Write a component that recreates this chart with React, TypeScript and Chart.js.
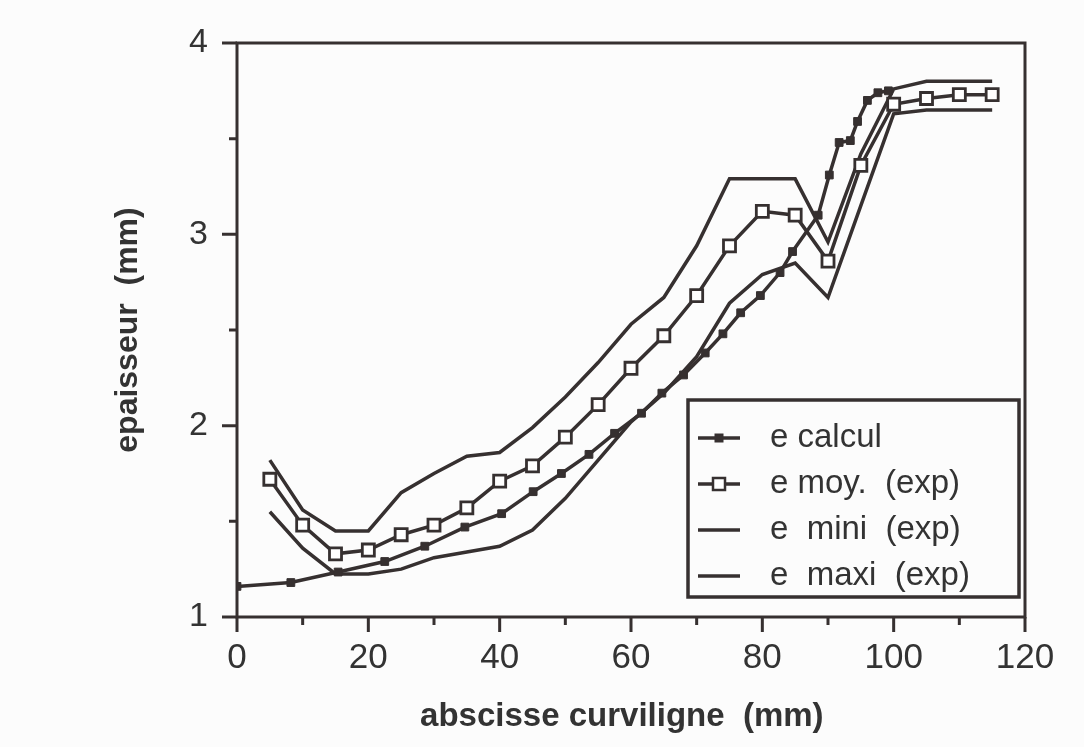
import React, { useEffect, useRef } from 'react';
import { Chart, registerables } from 'chart.js';

Chart.register(...registerables);

const INK = '#363030';
const FONT = "'Liberation Sans', Arial, Helvetica, sans-serif";

// axis ticks
const xMajorTicks = [0, 20, 40, 60, 80, 100, 120];
const xMinorTicks = [10, 30, 50, 70, 90, 110];
const yMajorTicks = [1, 2, 3, 4];
const yMinorTicks = [1.5, 2.5, 3.5];

// e calcul
const calculX = [0, 8.2, 15.4, 22.5, 28.6, 34.7, 40.3, 45.1, 49.4, 53.6, 57.5, 61.6, 64.7, 68.0, 71.3, 74.0, 76.7, 79.7, 82.7, 84.6, 88.5, 90.2, 91.7, 93.4, 94.5, 96.0, 97.6, 99.2];
const calculY = [1.16, 1.18, 1.235, 1.29, 1.37, 1.47, 1.54, 1.655, 1.75, 1.85, 1.96, 2.065, 2.17, 2.265, 2.38, 2.48, 2.59, 2.68, 2.8, 2.91, 3.1, 3.31, 3.48, 3.49, 3.59, 3.7, 3.74, 3.75];

// e moy. (exp)
const moyX = [5, 10, 15, 20, 25, 30, 35, 40, 45, 50, 55, 60, 65, 70, 75, 80, 85, 90, 95, 100, 105, 110, 115];
const moyY = [1.72, 1.48, 1.33, 1.35, 1.43, 1.48, 1.57, 1.71, 1.79, 1.94, 2.11, 2.3, 2.47, 2.68, 2.94, 3.12, 3.1, 2.86, 3.36, 3.68, 3.71, 3.73, 3.73];

// e mini (exp)
const miniX = [5, 10, 15, 20, 25, 30, 35, 40, 45, 50, 55, 60, 65, 70, 75, 80, 85, 90, 95, 100, 105, 115];
const miniY = [1.55, 1.36, 1.225, 1.225, 1.25, 1.31, 1.34, 1.37, 1.455, 1.62, 1.82, 2.02, 2.17, 2.36, 2.64, 2.79, 2.85, 2.67, 3.15, 3.63, 3.65, 3.65];

// e maxi (exp)
const maxiX = [5, 10, 15, 20, 25, 30, 35, 40, 45, 50, 55, 60, 65, 70, 75, 85, 90, 95, 100, 105, 115];
const maxiY = [1.82, 1.56, 1.45, 1.45, 1.65, 1.75, 1.84, 1.86, 1.99, 2.15, 2.33, 2.53, 2.67, 2.94, 3.29, 3.29, 2.96, 3.42, 3.76, 3.8, 3.8];

const labels = ['e calcul', 'e moy.  (exp)', 'e  mini  (exp)', 'e  maxi  (exp)'];

const toPts = (xs: number[], ys: number[]) => xs.map((x, i) => ({ x, y: ys[i] }));

const framePlugin = {
  id: 'frameTicks',
  afterDraw(chart: any) {
    const { ctx, chartArea: a, scales } = chart;
    const xs = scales.x;
    const ys = scales.y;
    ctx.save();
    ctx.strokeStyle = INK;
    ctx.lineWidth = 3;
    ctx.strokeRect(a.left, a.top, a.right - a.left, a.bottom - a.top);
    ctx.beginPath();
    const tick = (vals: number[], len: number) => {
      vals.forEach((v) => {
        const px = xs.getPixelForValue(v);
        ctx.moveTo(px, a.bottom);
        ctx.lineTo(px, a.bottom + len);
      });
    };
    tick(xMajorTicks, 15);
    tick(xMinorTicks, 8);
    const ytick = (vals: number[], len: number) => {
      vals.forEach((v) => {
        const py = ys.getPixelForValue(v);
        ctx.moveTo(a.left - len, py);
        ctx.lineTo(a.left, py);
      });
    };
    ytick(yMajorTicks, 15);
    ytick(yMinorTicks, 8);
    ctx.stroke();

    // legend box
    const right = a.right - 6;
    const bottom = a.bottom - 20;
    const w = 331;
    const h = 197;
    const left = right - w;
    const top = bottom - h;
    ctx.fillStyle = '#fcfcfc';
    ctx.fillRect(left, top, w, h);
    ctx.lineWidth = 3.5;
    ctx.strokeRect(left, top, w, h);
    ctx.font = `33px ${FONT}`;
    ctx.textBaseline = 'middle';
    ctx.textAlign = 'left';
    chart.data.datasets.forEach((ds: any, i: number) => {
      const yy = top + 38 + i * 46;
      const x0 = left + 10;
      const x1 = left + 52;
      ctx.lineWidth = 3.5;
      ctx.strokeStyle = INK;
      ctx.beginPath();
      ctx.moveTo(x0, yy);
      ctx.lineTo(x1, yy);
      ctx.stroke();
      const cx = (x0 + x1) / 2;
      if (i === 0) {
        ctx.fillStyle = INK;
        ctx.fillRect(cx - 4.5, yy - 4.5, 9, 9);
      } else if (i === 1) {
        ctx.fillStyle = '#ffffff';
        ctx.fillRect(cx - 6, yy - 6, 12, 12);
        ctx.lineWidth = 2.5;
        ctx.strokeRect(cx - 6, yy - 6, 12, 12);
      }
      ctx.fillStyle = '#333';
      ctx.fillText(ds.label, left + 82, yy);
    });
    ctx.restore();
  },
};

export default function App() {
  const ref = useRef<HTMLCanvasElement | null>(null);
  useEffect(() => {
    if (!ref.current) return;
    Chart.defaults.font.family = FONT;
    const lineBase = {
      borderColor: INK,
      borderWidth: 3.5,
      pointBorderColor: INK,
      tension: 0,
      fill: false,
    };
    const chart = new Chart(ref.current, {
      type: 'line',
      data: {
        datasets: [
          {
            ...lineBase,
            label: labels[0],
            data: toPts(calculX, calculY),
            pointStyle: 'rect',
            pointRadius: 5.5,
            pointBackgroundColor: INK,
            pointBorderWidth: 1,
          },
          {
            ...lineBase,
            label: labels[1],
            data: toPts(moyX, moyY),
            pointStyle: 'rect',
            pointRadius: 8.5,
            pointBackgroundColor: '#ffffff',
            pointBorderWidth: 2.8,
          },
          {
            ...lineBase,
            label: labels[2],
            data: toPts(miniX, miniY),
            pointRadius: 0,
          },
          {
            ...lineBase,
            label: labels[3],
            data: toPts(maxiX, maxiY),
            pointRadius: 0,
          },
        ],
      },
      options: {
        animation: false,
        responsive: false,
        maintainAspectRatio: false,
        events: [],
        layout: { padding: { left: 105, right: 59, top: 43, bottom: 10 } },
        plugins: {
          legend: { display: false },
          tooltip: { enabled: false },
        },
        scales: {
          x: {
            type: 'linear',
            min: 0,
            max: 120,
            afterFit: (s: any) => {
              s.height = 120;
            },
            afterBuildTicks: (s: any) => {
              s.ticks = xMajorTicks.map((v) => ({ value: v }));
            },
            ticks: {
              color: '#333',
              font: { size: 35 },
              padding: 5,
              maxRotation: 0,
              autoSkip: false,
            },
            grid: {
              display: true,
              drawOnChartArea: false,
              drawTicks: true,
              tickLength: 15,
              color: 'rgba(0,0,0,0)',
              tickColor: 'rgba(0,0,0,0)',
            },
            border: { display: false },
            title: {
              display: true,
              text: 'abscisse curviligne  (mm)  ',
              color: '#333',
              font: { size: 33, weight: 'bold' },
              padding: { top: 0, bottom: 0 },
            },
          },
          y: {
            type: 'linear',
            min: 1,
            max: 4,
            afterFit: (s: any) => {
              s.width = 132;
            },
            afterBuildTicks: (s: any) => {
              s.ticks = yMajorTicks.map((v) => ({ value: v }));
            },
            ticks: {
              color: '#333',
              font: { size: 34 },
              padding: 14,
            },
            grid: {
              display: true,
              drawOnChartArea: false,
              drawTicks: true,
              tickLength: 15,
              color: 'rgba(0,0,0,0)',
              tickColor: 'rgba(0,0,0,0)',
            },
            border: { display: false },
            title: {
              display: true,
              text: 'epaisseur  (mm)',
              color: '#333',
              font: { size: 32, weight: 'bold' },
              padding: { top: 4, bottom: 0 },
            },
          },
        },
      },
      plugins: [framePlugin],
    });
    return () => chart.destroy();
  }, []);
  return (
    <div
      style={{
        position: 'fixed',
        left: 0,
        top: 0,
        width: 1084,
        height: 747,
        background: '#fcfcfc',
      }}
    >
      <canvas ref={ref} width={1084} height={747} />
    </div>
  );
}
